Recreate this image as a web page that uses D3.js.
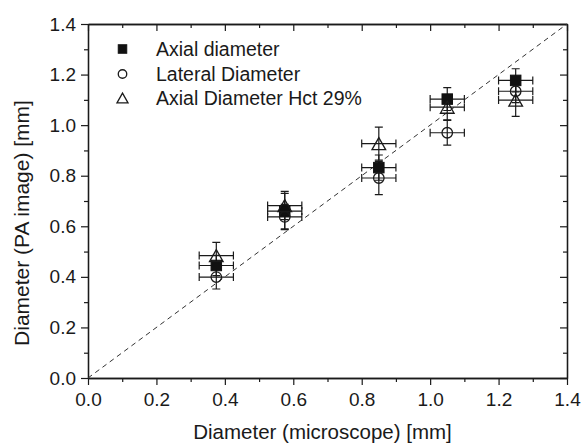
<!DOCTYPE html>
<html>
<head>
<meta charset="utf-8">
<script src="https://cdn.jsdelivr.net/npm/d3@7"></script>
<style>
  html, body { margin: 0; padding: 0; background: #fff; }
  svg { display: block; }
</style>
</head>
<body>
<div id="chart"></div>
<script>
// ---- data ----
const xVals      = [0.375, 0.575, 0.85, 1.05, 1.25];
const xErr       = [0.05, 0.05, 0.05, 0.05, 0.05];
const axialY     = [0.445, 0.660, 0.832, 1.103, 1.177];
const axialErr   = [0.040, 0.070, 0.050, 0.045, 0.046];
const lateralY   = [0.399, 0.637, 0.791, 0.970, 1.134];
const lateralErr = [0.047, 0.050, 0.066, 0.049, 0.045];
const hctY       = [0.484, 0.682, 0.927, 1.071, 1.099];
const hctErr     = [0.052, 0.056, 0.065, 0.050, 0.064];
const majorTicks = [0, 0.2, 0.4, 0.6, 0.8, 1.0, 1.2, 1.4];
const minorTicks = [0.1, 0.3, 0.5, 0.7, 0.9, 1.1, 1.3];
const seriesNames = ["Axial diameter", "Lateral Diameter", "Axial Diameter Hct 29%"];
const xTitle = "Diameter (microscope) [mm]";
const yTitle = "Diameter (PA image) [mm]";

const width = 581, height = 445;
const margin = {top: 24, right: 14, bottom: 67, left: 88};
const font = "'Liberation Sans', Arial, Helvetica, sans-serif";
const ink = "#1a1a1a";

const x = d3.scaleLinear([0, 1.4], [margin.left, width - margin.right]);
const y = d3.scaleLinear([0, 1.4], [height - margin.bottom, margin.top]);

const svg = d3.select("#chart").append("svg")
    .attr("width", width)
    .attr("height", height)
    .style("font-family", font);

svg.append("rect").attr("width", width).attr("height", height).attr("fill", "#fff");

// ---- axes ----
const fmt = d3.format(".1f");
function styleAxis(g) {
    g.select(".domain").attr("stroke", ink).attr("stroke-width", 1.3);
    g.selectAll(".tick line").attr("stroke", ink).attr("stroke-width", 1.2);
    g.selectAll(".tick text").attr("fill", ink).style("font-size", "19px").style("font-family", font);
}
const x0 = height - margin.bottom, yTop = margin.top;
const xl = margin.left, xr = width - margin.right;

svg.append("g").attr("transform", `translate(0,${x0})`)
    .call(d3.axisBottom(x).tickValues(majorTicks).tickFormat(fmt).tickSize(7).tickPadding(8).tickSizeOuter(0))
    .call(styleAxis);
svg.append("g").attr("transform", `translate(0,${x0})`)
    .call(d3.axisBottom(x).tickValues(minorTicks).tickFormat("").tickSize(4).tickSizeOuter(0))
    .call(styleAxis);
svg.append("g").attr("transform", `translate(0,${yTop})`)
    .call(d3.axisTop(x).tickValues(majorTicks).tickFormat("").tickSize(-7).tickSizeOuter(0))
    .call(styleAxis);
svg.append("g").attr("transform", `translate(0,${yTop})`)
    .call(d3.axisTop(x).tickValues(minorTicks).tickFormat("").tickSize(-4).tickSizeOuter(0))
    .call(styleAxis);
svg.append("g").attr("transform", `translate(${xl},0)`)
    .call(d3.axisLeft(y).tickValues(majorTicks).tickFormat(fmt).tickSize(7).tickPadding(5).tickSizeOuter(0))
    .call(styleAxis);
svg.append("g").attr("transform", `translate(${xl},0)`)
    .call(d3.axisLeft(y).tickValues(minorTicks).tickFormat("").tickSize(4).tickSizeOuter(0))
    .call(styleAxis);
svg.append("g").attr("transform", `translate(${xr},0)`)
    .call(d3.axisRight(y).tickValues(majorTicks).tickFormat("").tickSize(-7).tickSizeOuter(0))
    .call(styleAxis);
svg.append("g").attr("transform", `translate(${xr},0)`)
    .call(d3.axisRight(y).tickValues(minorTicks).tickFormat("").tickSize(-4).tickSizeOuter(0))
    .call(styleAxis);

// axis titles
svg.append("text")
    .attr("x", 322.5).attr("y", 439)
    .attr("text-anchor", "middle")
    .attr("fill", ink)
    .style("font-size", "20.5px")
    .text(xTitle);
svg.append("text")
    .attr("transform", `translate(28.5,223) rotate(-90)`)
    .attr("text-anchor", "middle")
    .attr("fill", ink)
    .style("font-size", "21px")
    .text(yTitle);

// ---- identity line ----
svg.append("line")
    .attr("x1", x(0)).attr("y1", y(0))
    .attr("x2", x(1.4)).attr("y2", y(1.4))
    .attr("stroke", "#333")
    .attr("stroke-width", 1)
    .attr("stroke-dasharray", "5,4");

// ---- series ----
const series = [
    {name: seriesNames[0], ys: axialY, errs: axialErr, shape: "square"},
    {name: seriesNames[1], ys: lateralY, errs: lateralErr, shape: "circle"},
    {name: seriesNames[2], ys: hctY, errs: hctErr, shape: "triangle"}
];

const cap = 4;
const errG = svg.append("g").attr("stroke", ink).attr("stroke-width", 1.2).attr("fill", "none");
series.forEach(s => {
    s.ys.forEach((v, i) => {
        const cx = x(xVals[i]), cy = y(v);
        const yl = y(v - s.errs[i]), yh = y(v + s.errs[i]);
        const xa = x(xVals[i] - xErr[i]), xb = x(xVals[i] + xErr[i]);
        errG.append("path").attr("d",
            `M${cx},${yl}V${yh}M${cx - cap},${yl}H${cx + cap}M${cx - cap},${yh}H${cx + cap}` +
            `M${xa},${cy}H${xb}M${xa},${cy - cap}V${cy + cap}M${xb},${cy - cap}V${cy + cap}`);
    });
});

function drawSymbol(g, shape, cx, cy, s) {
    if (shape === "square") {
        g.append("rect")
            .attr("x", cx - s / 2).attr("y", cy - s / 2)
            .attr("width", s).attr("height", s)
            .attr("fill", "#111").attr("stroke", "#111").attr("stroke-width", 1);
    } else if (shape === "circle") {
        g.append("circle")
            .attr("cx", cx).attr("cy", cy).attr("r", s / 2)
            .attr("fill", "none").attr("stroke", ink).attr("stroke-width", 1.3);
    } else {
        const w = s * 1.3, h = s * 1.15;
        g.append("path")
            .attr("d", `M${cx},${cy - h / 2}L${cx + w / 2},${cy + h / 2}L${cx - w / 2},${cy + h / 2}Z`)
            .attr("fill", "none").attr("stroke", ink).attr("stroke-width", 1.3);
    }
}

const markG = svg.append("g");
series.forEach(s => {
    s.ys.forEach((v, i) => drawSymbol(markG, s.shape, x(xVals[i]), y(v), 10.5));
});

// ---- legend ----
const legend = svg.append("g");
const legendRows = [49, 74, 98];
series.forEach((s, i) => {
    drawSymbol(legend, s.shape, 122.5, legendRows[i], 8.5);
    legend.append("text")
        .attr("x", 156).attr("y", legendRows[i])
        .attr("dy", "0.36em")
        .attr("fill", ink)
        .style("font-size", "19.5px")
        .text(s.name);
});
</script>
</body>
</html>
